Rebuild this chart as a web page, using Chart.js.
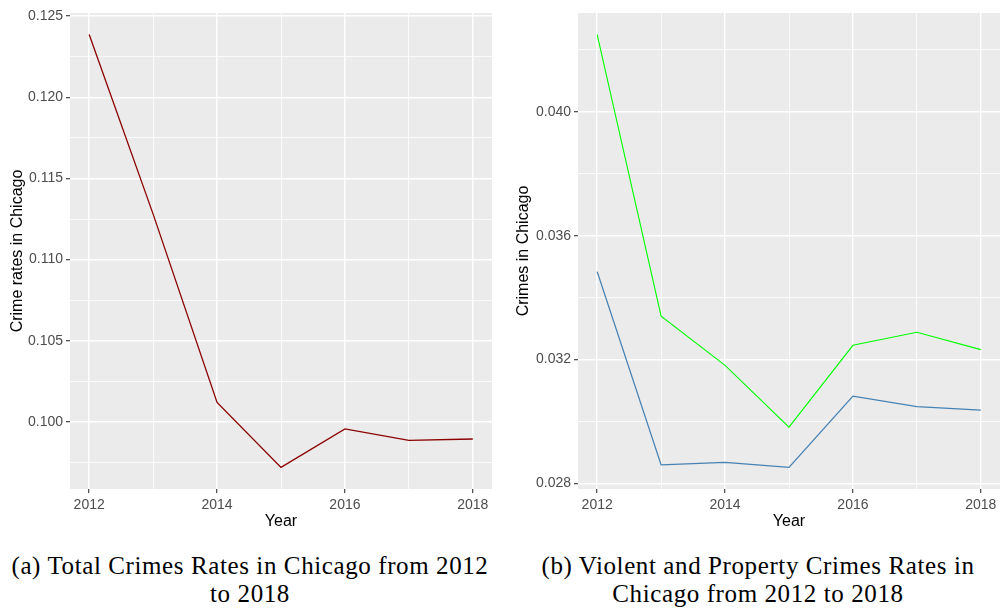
<!DOCTYPE html>
<html lang="en">

<head>
    <meta charset="utf-8">
    <title>Crime Rates in Chicago 2012-2018</title>
    <script src="https://cdn.jsdelivr.net/npm/chart.js@4.4.1/dist/chart.umd.min.js"></script>
    <style>
        body {
            margin: 0;
            width: 1001px;
            height: 612px;
            background: #fff;
            position: relative;
            overflow: hidden;
        }

        canvas {
            position: absolute;
            top: 0;
        }

        .caption {
            position: absolute;
            text-align: center;
            font-family: "Liberation Serif", serif;
            font-size: 25px;
            letter-spacing: 0.6px;
            line-height: 28px;
            color: #000;
            white-space: nowrap;
        }
    </style>
</head>

<body>
    <canvas id="totalChart" width="500" height="540" style="left:0"></canvas>
    <canvas id="typeChart" width="501" height="540" style="left:500px"></canvas>

    <div class="caption" style="left:0; width:500px; top:552px">(a) Total Crimes Rates in Chicago from 2012<br>to 2018</div>
    <div class="caption" style="left:508px; width:500px; top:552px">(b) Violent and Property Crimes Rates in<br>Chicago from 2012 to 2018</div>

    <script>
        // yearly rates
        const years = [2012, 2013, 2014, 2015, 2016, 2017, 2018];
        const totalRates = [0.12386, 0.11280, 0.10120, 0.09720, 0.09957, 0.09887, 0.09895];
        const violentRates = [0.04249, 0.03340, 0.03181, 0.02982, 0.03246, 0.03288, 0.03232];
        const propertyRates = [0.03484, 0.02860, 0.02868, 0.02852, 0.03082, 0.03048, 0.03037];

        // axis ticks (major ones get labels)
        const xMajor = [2012, 2014, 2016, 2018];
        const xMinor = [2013, 2015, 2017];
        const totalMajor = [0.100, 0.105, 0.110, 0.115, 0.120, 0.125];
        const totalMinor = [0.0975, 0.1025, 0.1075, 0.1125, 0.1175, 0.1225];
        const typeMajor = [0.028, 0.032, 0.036, 0.040];
        const typeMinor = [0.030, 0.034, 0.038, 0.042];

        const xRange = [2011.7, 2018.3];
        const totalRange = [0.09587, 0.12519];
        const typeRange = [0.02782, 0.04319];

        const panelBg = {
            id: 'panelBg',
            beforeDraw(chart) {
                const { ctx, chartArea: a } = chart;
                ctx.save();
                ctx.fillStyle = '#EBEBEB';
                ctx.fillRect(a.left, a.top, a.right - a.left, a.bottom - a.top);
                ctx.restore();
            }
        };

        function points(vals) {
            return years.map((y, i) => ({ x: y, y: vals[i] }));
        }

        function setTicks(major, minor) {
            return function (scale) {
                scale.ticks = major.concat(minor).sort((a, b) => a - b)
                    .map(v => ({ value: v, major: major.includes(v) }));
            };
        }

        function gridOpts() {
            return {
                color: '#FFFFFF',
                lineWidth: c => (c.tick && c.tick.major) ? 1.4 : 0.8,
                drawTicks: true,
                tickLength: 4,
                tickWidth: 1.1,
                tickColor: c => (c.tick && c.tick.major) ? '#333333' : 'rgba(0,0,0,0)'
            };
        }

        function makeChart(id, datasets, yMajor, yMinor, yRange, yTitle, yWidth, yTitlePad, padRight) {
            return new Chart(document.getElementById(id), {
                type: 'line',
                data: { datasets: datasets },
                options: {
                    responsive: false,
                    animation: false,
                    events: [],
                    layout: { padding: { top: 13, right: padRight, left: 0, bottom: 0 } },
                    plugins: { legend: { display: false }, tooltip: { enabled: false } },
                    elements: { point: { radius: 0 }, line: { tension: 0 } },
                    scales: {
                        x: {
                            type: 'linear',
                            min: xRange[0],
                            max: xRange[1],
                            afterBuildTicks: setTicks(xMajor, xMinor),
                            afterFit: s => { s.height = 51; },
                            border: { display: false },
                            grid: gridOpts(),
                            ticks: {
                                padding: 4,
                                color: '#4D4D4D',
                                font: { family: 'Liberation Sans', size: 14 },
                                callback: (v, i, t) => t[i].major ? String(v) : ''
                            },
                            title: {
                                display: true,
                                text: 'Year',
                                color: '#000',
                                padding: { top: 0, bottom: 9 },
                                font: { family: 'Liberation Sans', size: 16 }
                            }
                        },
                        y: {
                            type: 'linear',
                            min: yRange[0],
                            max: yRange[1],
                            afterBuildTicks: setTicks(yMajor, yMinor),
                            afterFit: s => { s.width = yWidth; },
                            border: { display: false },
                            grid: gridOpts(),
                            ticks: {
                                padding: 3,
                                color: '#4D4D4D',
                                font: { family: 'Liberation Sans', size: 14 },
                                callback: (v, i, t) => t[i].major ? v.toFixed(3) : ''
                            },
                            title: {
                                display: true,
                                text: yTitle,
                                color: '#000',
                                padding: { top: yTitlePad, bottom: 0 },
                                font: { family: 'Liberation Sans', size: 16 }
                            }
                        }
                    }
                },
                plugins: [panelBg]
            });
        }

        makeChart('totalChart', [{
            data: points(totalRates),
            borderColor: '#8B0000',
            borderWidth: 1.3
        }], totalMajor, totalMinor, totalRange, 'Crime rates in Chicago', 70, 8, 8);

        makeChart('typeChart', [{
            data: points(propertyRates),
            borderColor: '#4682B4',
            borderWidth: 1.3
        }, {
            data: points(violentRates),
            borderColor: '#00FF00',
            borderWidth: 1.1
        }], typeMajor, typeMinor, typeRange, 'Crimes in Chicago', 78, 14, 1);
    </script>
</body>

</html>
